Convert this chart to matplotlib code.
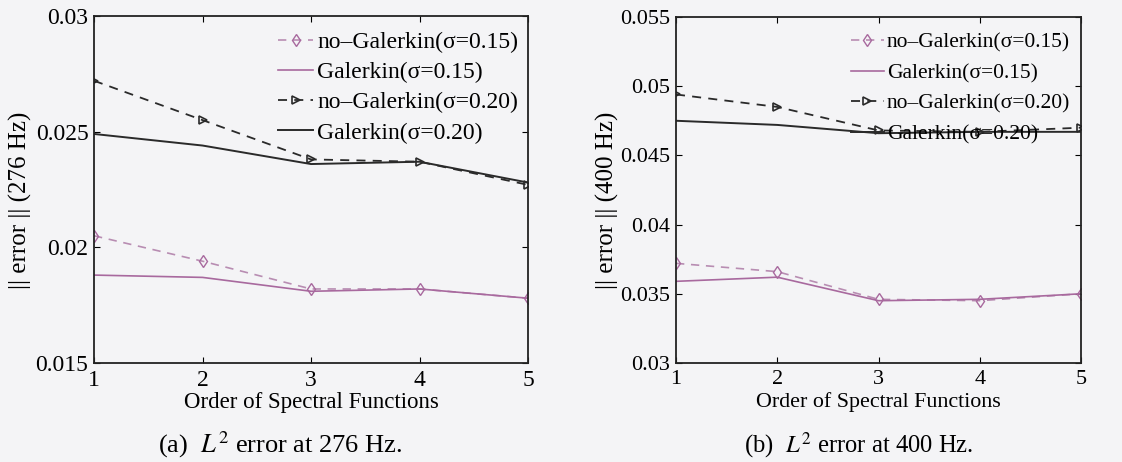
import matplotlib
matplotlib.use("Agg")
import matplotlib.pyplot as plt

plt.rcParams['font.family'] = ['Liberation Serif', 'DejaVu Serif']
plt.rcParams['mathtext.fontset'] = 'stix'

orders = [1, 2, 3, 4, 5]
xticks = [1, 2, 3, 4, 5]

# 276 Hz
nogal_015_a = [0.0205, 0.0194, 0.0182, 0.0182, 0.0178]
gal_015_a = [0.0188, 0.0187, 0.0181, 0.0182, 0.0178]
nogal_020_a = [0.0272, 0.0255, 0.0238, 0.0237, 0.0227]
gal_020_a = [0.0249, 0.0244, 0.0236, 0.0237, 0.0228]
yticks_a = [0.015, 0.02, 0.025, 0.03]
yticklabels_a = ['0.015', '0.02', '0.025', '0.03']

# 400 Hz
nogal_015_b = [0.0372, 0.0366, 0.0346, 0.0345, 0.0350]
gal_015_b = [0.0359, 0.0362, 0.0345, 0.0346, 0.0350]
nogal_020_b = [0.0494, 0.0485, 0.0468, 0.0467, 0.0470]
gal_020_b = [0.0475, 0.0472, 0.0466, 0.0467, 0.0467]
yticks_b = [0.03, 0.035, 0.04, 0.045, 0.05, 0.055]
yticklabels_b = ['0.03', '0.035', '0.04', '0.045', '0.05', '0.055']

labels = ['no\u2013Galerkin(\u03c3=0.15)', 'Galerkin(\u03c3=0.15)',
          'no\u2013Galerkin(\u03c3=0.20)', 'Galerkin(\u03c3=0.20)']

bg = '#f4f4f6'
pink_d = '#b88db2'
pink_s = '#a8699e'
dark = '#2a2a2a'

fig = plt.figure(figsize=(11.22, 4.62), dpi=100, facecolor=bg)
axA = fig.add_axes([0.0838, 0.2143, 0.3868, 0.7511])
axB = fig.add_axes([0.6025, 0.2143, 0.3610, 0.7490])


def draw(ax, ng15, g15, ng20, g20, yt, ytl, ylim, ylabel, fs, xfs, lfs,
         leg_anchor, lspace, ylab_x):
    ax.set_facecolor(bg)
    ax.plot(orders, ng15, linestyle=(0, (5, 4)), color=pink_d, lw=1.2,
            marker='d', ms=6, mfc='none', mec=pink_s, mew=1.0, label=labels[0])
    ax.plot(orders, g15, linestyle='-', color=pink_s, lw=1.2, label=labels[1])
    ax.plot(orders, ng20, linestyle=(0, (5, 4)), color=dark, lw=1.3,
            marker='>', ms=6, mfc='none', mec=dark, mew=1.2, label=labels[2])
    ax.plot(orders, g20, linestyle='-', color=dark, lw=1.4, label=labels[3])
    ax.set_xlim(1, 5)
    ax.set_ylim(*ylim)
    ax.set_xticks(xticks)
    ax.set_xticklabels([str(t) for t in xticks])
    ax.set_yticks(yt)
    ax.set_yticklabels(ytl)
    ax.tick_params(direction='in', top=True, right=True, length=4, width=0.8,
                   labelsize=fs)
    ax.tick_params(axis='x', pad=5)
    ax.tick_params(axis='y', pad=4)
    for s in ax.spines.values():
        s.set_linewidth(1.3)
        s.set_color('#222222')
    ax.set_xlabel('Order of Spectral Functions', fontsize=xfs)
    ax.xaxis.set_label_coords(0.5, -0.113)
    ax.xaxis.label.set_va('center')
    ax.set_ylabel(ylabel, fontsize=18)
    ax.yaxis.set_label_coords(ylab_x, 0.47)
    ax.yaxis.label.set_va('center')
    ax.legend(loc='upper right', bbox_to_anchor=leg_anchor, frameon=False,
              fontsize=lfs, handlelength=1.5, handletextpad=0.15,
              labelspacing=lspace, borderpad=0, borderaxespad=0)


draw(axA, nogal_015_a, gal_015_a, nogal_020_a, gal_020_a, yticks_a, yticklabels_a,
     (0.015, 0.03), '|| error || (276 Hz)', 17, 16.5, 17, (0.977, 0.955), 0.365, -0.170)
draw(axB, nogal_015_b, gal_015_b, nogal_020_b, gal_020_b, yticks_b, yticklabels_b,
     (0.03, 0.055), '|| error || (400 Hz)', 16, 15.8, 15.5, (0.973, 0.955), 0.49, -0.170)

fig.text(0.2494, 0.037, r'(a)  $L^2$ error at 276 Hz.', ha='center', va='center', fontsize=19)
fig.text(0.765, 0.037, r'(b)  $L^2$ error at 400 Hz.', ha='center', va='center', fontsize=17.7)

fig.savefig('out.png', dpi=100, facecolor=bg)
